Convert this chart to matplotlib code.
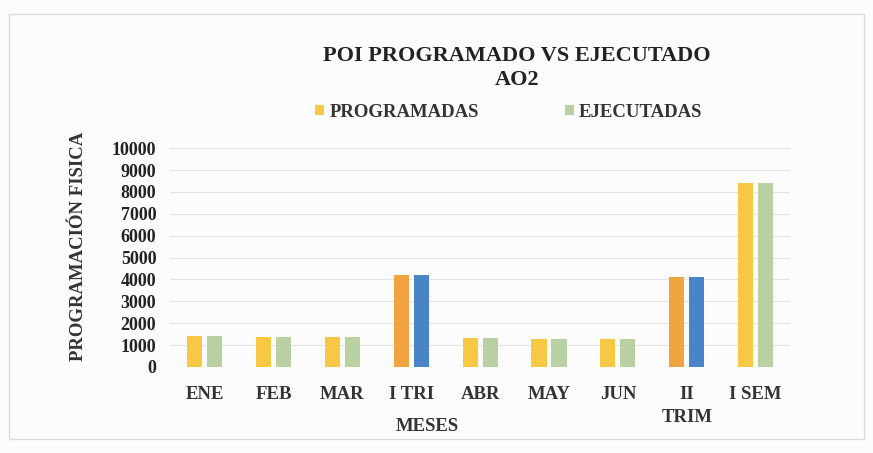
import matplotlib.pyplot as plt
import numpy as np
from matplotlib.patches import Rectangle

# Data
meses = ['ENE', 'FEB', 'MAR', 'I TRI', 'ABR', 'MAY', 'JUN', 'II\nTRIM', 'I SEM']
programadas = [1400, 1380, 1350, 4200, 1300, 1270, 1260, 4100, 8400]
ejecutadas = [1400, 1380, 1350, 4200, 1300, 1270, 1260, 4100, 8400]
trimestres = ['I TRI', 'II\nTRIM']

plt.rcParams['font.family'] = ['Liberation Serif', 'DejaVu Serif']

yellow = '#F6C843'
green = '#B9D0A2'
orange = '#F0A43F'
blue = '#4A84C6'

fig = plt.figure(figsize=(8.73, 4.53), dpi=100)
fig.patch.set_facecolor('#FCFCFC')
# light frame around the chart
fig.patches.append(Rectangle((0.01, 0.03), 0.98, 0.94, transform=fig.transFigure,
                             fill=False, edgecolor='#DADADA', linewidth=1))

ax = fig.add_axes([0.195, 0.19, 0.71, 0.483])
ax.set_facecolor('#FCFCFC')

x = np.arange(len(meses))
w = 0.22
off = 0.145
c1 = [orange if m in trimestres else yellow for m in meses]
c2 = [blue if m in trimestres else green for m in meses]
b1 = ax.bar(x - off, programadas, w, color=c1, zorder=3)
b2 = ax.bar(x + off, ejecutadas, w, color=c2, zorder=3)

ax.set_xlim(-0.5, 8.5)
ax.set_ylim(0, 10000)
ax.set_yticks(range(0, 10001, 1000))
ax.grid(axis='y', color='#E3E3E3', linewidth=0.8, zorder=0)
for s in ax.spines.values():
    s.set_visible(False)
ax.tick_params(length=0)
ax.set_xticks(x)
ax.set_xticklabels(meses, fontsize=13.5, fontweight='bold', color='#333333',
                   linespacing=1.45)
ax.tick_params(axis='x', pad=14)
ax.tick_params(axis='y', pad=10)
for t in ax.get_yticklabels():
    t.set_fontsize(13)
    t.set_fontweight('bold')
    t.set_color('#222222')

ax.set_xlabel('MESES', fontsize=13.5, fontweight='bold', color='#333333')
ax.xaxis.set_label_coords(0.415, -0.235)
ax.set_ylabel('PROGRAMACIÓN FISICA', fontsize=13.5, fontweight='bold', color='#333333')
ax.yaxis.set_label_coords(-0.135, 0.55)

fig.text(0.592, 0.85, 'POI PROGRAMADO VS EJECUTADO\nAO2', ha='center', va='center',
         fontsize=16, fontweight='bold', color='#222222', linespacing=1.25)

leg = fig.legend([b1[0], b2[0]], ['PROGRAMADAS', 'EJECUTADAS'], loc='center',
                 bbox_to_anchor=(0.583, 0.752), ncol=2, frameon=False,
                 handlelength=0.45, handleheight=0.45, handletextpad=0.3,
                 columnspacing=4.6, prop={'size': 13.5, 'weight': 'bold'})
for t in leg.get_texts():
    t.set_color('#333333')

fig.savefig('out.png', dpi=100, facecolor=fig.get_facecolor())
